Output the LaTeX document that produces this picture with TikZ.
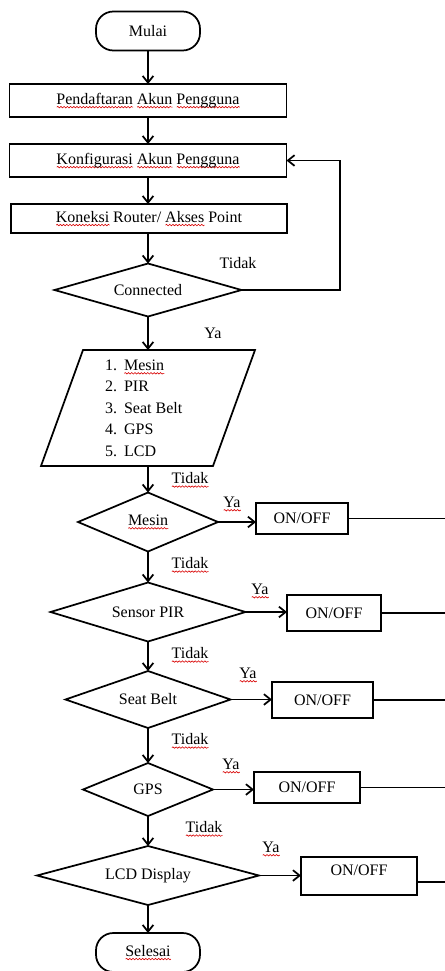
\documentclass[tikz,border=0pt]{standalone}
\usepackage{fontspec}
\setmainfont{Liberation Serif}
\usetikzlibrary{arrows.meta,shapes.geometric,decorations.pathmorphing}

% red wavy underline of a word processor's spell check
\newsavebox\spellbox
\newcommand\spell[1]{\sbox\spellbox{#1}%
  \rlap{\tikz[baseline=0pt,x=1pt,y=1pt,sharp corners]{\draw[red!85!black, line width=0.45pt,
      sharp corners, decorate, decoration={snake, amplitude=0.55pt, segment length=2.4pt}]
      (0,-2.3) -- (\the\wd\spellbox,-2.3);}}%
  \usebox\spellbox}

\begin{document}
\begin{tikzpicture}[x=0.75pt,y=-0.75pt,
  line width=1.3pt,
  every node/.style={font=\fontsize{12}{14}\selectfont, inner sep=0pt, outer sep=0pt},
  box/.style={draw, rectangle},
  term/.style={draw, rectangle, rounded corners=13pt, minimum width=78pt, minimum height=29.25pt},
  cond/.style={draw, diamond, aspect=4},
  arr/.style={-{Straight Barb[length=5pt,width=8pt]}},
  lbl/.style={}]

\useasboundingbox (0,0) rectangle (445,971);
\fill[white] (0,0) rectangle (445,971);
\clip (0,0) rectangle (445,971);

% main column
\node[term] (start) at (148,31) {Mulai};
\node[box, minimum width=207.75pt, minimum height=24.75pt] (s1) at (148,100.5)
  {\spell{Pendaftaran} \spell{Akun} \spell{Pengguna}};
\node[box, minimum width=207.75pt, minimum height=24.75pt] (s2) at (148,160.5)
  {\spell{Konfigurasi} \spell{Akun} \spell{Pengguna}};
\node[box, minimum width=207pt, minimum height=21.75pt] (s3) at (149,218.5)
  {\spell{Koneksi} Router/ \spell{Akses} Point};
\node[cond, minimum width=140.25pt, minimum height=39.75pt] (conn) at (148,290) {Connected};

% input list (parallelogram)
\coordinate (paratop) at (148,350);
\coordinate (parabot) at (148,466);
\draw (83,350) -- (255,350) -- (213,466) -- (41,466) -- cycle;
\node[anchor=west, align=left, font=\fontsize{12}{16.1}\selectfont] (items) at (105,408)
  {\makebox[14.3pt][l]{1.}\spell{Mesin}\\
   \makebox[14.3pt][l]{2.}PIR\\
   \makebox[14.3pt][l]{3.}Seat Belt\\
   \makebox[14.3pt][l]{4.}GPS\\
   \makebox[14.3pt][l]{5.}LCD};

% decisions
\node[cond, minimum width=105pt, minimum height=44.25pt] (mesin) at (148,522) {\spell{Mesin}};
\node[cond, minimum width=146.25pt, minimum height=44.25pt] (pir) at (148,612) {Sensor PIR};
\node[cond, minimum width=123.75pt, minimum height=42.75pt] (belt) at (148,699.5) {Seat Belt};
\node[cond, minimum width=97.5pt, minimum height=39.75pt] (gps) at (148,789.5) {GPS};
\node[cond, minimum width=166.5pt, minimum height=44.25pt] (lcd) at (148,875.5) {LCD Display};
\node[term] (stop) at (148,952.5) {\spell{Selesai}};

% switches
\node[box, minimum width=69pt, minimum height=23.25pt] (on1) at (302,518.5) {ON/OFF};
\node[box, minimum width=70.5pt, minimum height=27pt] (on2) at (334,613) {ON/OFF};
\node[box, minimum width=75.75pt, minimum height=27pt] (on3) at (322.5,700) {ON/OFF};
\node[box, minimum width=79.5pt, minimum height=23.25pt] (on4) at (307,787.5) {ON/OFF};
\node[box, minimum width=87pt, minimum height=28.5pt, text height=8pt, text depth=9pt] (on5) at (359,876) {ON/OFF};

% branch labels
\node[lbl] (tc) at (238,263) {Tidak};
\node[lbl] (yc) at (213,333) {Ya};
\node[lbl] (t0) at (190,480) {\spell{Tidak}};
\node[lbl] (y1) at (232,504) {\spell{Ya}};
\node[lbl] (t1) at (190,565) {\spell{Tidak}};
\node[lbl] (y2) at (260,591) {\spell{Ya}};
\node[lbl] (t2) at (190,655) {\spell{Tidak}};
\node[lbl] (y3) at (248,675) {\spell{Ya}};
\node[lbl] (t3) at (190,741) {\spell{Tidak}};
\node[lbl] (y4) at (231,766) {\spell{Ya}};
\node[lbl] (t4) at (204,829) {\spell{Tidak}};
\node[lbl] (y5) at (271,849) {\spell{Ya}};

% flow
\draw[arr] (start.south) -- (s1.north);
\draw[arr] (s1.south) -- (s1.south |- s2.north);
\draw[arr] (s2.south) -- (s2.south |- s3.north);
\draw[arr] (s3.south -| conn.north) -- (conn.north);
\draw[arr] (conn.south) -- (paratop);
\draw[arr] (parabot) -- (mesin.north);
\draw[arr] (mesin.south) -- (pir.north);
\draw[arr] (pir.south) -- (belt.north);
\draw[arr] (belt.south) -- (gps.north);
\draw[arr] (gps.south) -- (lcd.north);
\draw[arr] (lcd.south) -- (stop.north);

% retry loop
\coordinate (loop) at (340,290);
\draw[arr] (conn.east) -- (loop) |- (s2.east);

% yes branches
\draw[arr] (mesin.east) -- (mesin.east -| on1.west);
\draw[arr] (pir.east) -- (pir.east -| on2.west);
\draw[arr] (belt.east) -- (belt.east -| on3.west);
\draw[arr] (gps.east) -- (gps.east -| on4.west);
\draw[arr] (lcd.east) -- (lcd.east -| on5.west);

% outgoing lines
\coordinate (rim) at (445,0);
\draw (on1.east) -- (on1.east -| rim);
\draw (on2.east) -- (on2.east -| rim);
\draw (on3.east) -- (on3.east -| rim);
\draw (on4.east) -- (on4.east -| rim);
\draw ([yshift=-4.5pt]on5.east) -- ([yshift=-4.5pt]on5.east -| rim);
\end{tikzpicture}
\end{document}
